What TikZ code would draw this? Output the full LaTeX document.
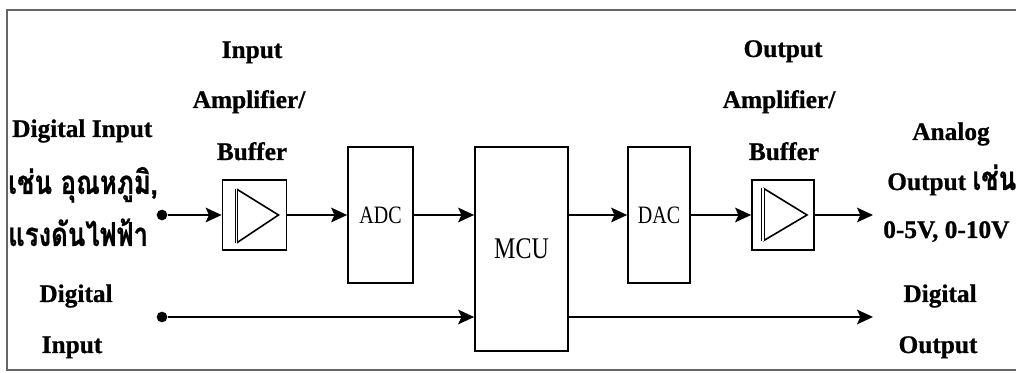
\documentclass[tikz,border=0pt]{standalone}
\usepackage{fontspec}
\setmainfont{Liberation Serif}[BoldFeatures={FakeBold=0.8}]
\newfontfamily\thaifont[Script=Thai,Scale=1.3,FakeStretch=0.78,BoldFeatures={FakeBold=0.6}]{Loma}
\newfontfamily\narrowfont[FakeStretch=0.8]{Liberation Serif}
\usetikzlibrary{arrows.meta,calc}
\tikzset{
  blk/.style={draw, line width=1.3pt, inner sep=0pt},
  blktxt/.style={font=\narrowfont\fontsize{18.75}{18.75}\selectfont},
  lbl/.style={font=\fontsize{19}{19}\selectfont\bfseries, inner sep=0pt, anchor=base},
  lbll/.style={lbl, anchor=base west},
  thlbl/.style={lbll, font=\thaifont\bfseries\fontsize{19}{19}\selectfont},
  conn/.style={line width=1.3pt, -{Stealth[length=12pt,width=11pt,inset=2.5pt]}},
  tri/.style={line width=1.2pt, line join=miter},
  triedge/.style={line width=0.7pt, double, double distance=1pt},
  dotnode/.style={circle, fill, inner sep=0pt, minimum size=8pt},
  frame/.style={draw=black!60, line width=1.2pt},
}
\begin{document}
\begin{tikzpicture}[x=0.75pt,y=-0.75pt]
\useasboundingbox (0,0) rectangle (1016,373);
\clip (0,0) rectangle (1016,373);
\draw[frame] (7,10) rectangle (1030,370);

% blocks
\node[blk, minimum width=48pt, minimum height=52pt] (bi) at (254.5,215) {};
\node[blk, blktxt, minimum width=48.75pt, minimum height=102pt] (adc) at (380.5,215) {ADC};
\node[blk, blktxt, font=\narrowfont\fontsize{22.5}{22.5}\selectfont, minimum width=69.75pt, minimum height=153pt] (mcu) at (521.5,249) {MCU};
\node[blk, blktxt, minimum width=46.5pt, minimum height=102pt] (dac) at (659,215) {DAC};
\node[blk, minimum width=46.5pt, minimum height=52.5pt] (bo) at (783,215) {};

% amplifier triangles
\draw[tri] ($(bi.center)+(-18,-26)$) -- ($(bi.center)+(24,0)$) -- ($(bi.center)+(-18,28)$);
\draw[triedge] ($(bi.center)+(-18,-26)$) -- ($(bi.center)+(-18,28)$);
\draw[tri] ($(bo.center)+(-20,-27)$) -- ($(bo.center)+(24,0)$) -- ($(bo.center)+(-20,26)$);
\draw[triedge] ($(bo.center)+(-20,-27)$) -- ($(bo.center)+(-20,26)$);

% terminals
\node[dotnode] (in1) at (162,215) {};
\node[dotnode] (in2) at (162,317) {};
\coordinate (aout) at (873,215);
\coordinate (dout) at (873,317);

% connectors
\draw[conn] (in1) -- (bi.west);
\draw[conn] (bi.east) -- (adc.west);
\draw[conn] (adc.east) -- (adc.east -| mcu.west);
\draw[conn] (dac.west -| mcu.east) -- (dac.west);
\draw[conn] (dac.east) -- (bo.west);
\draw[conn] (bo.east) -- (aout);
\draw[conn] (in2) -- (in2 -| mcu.west);
\draw[conn] (dout -| mcu.east) -- (dout);

% labels
\node[lbl] (t1) at (252,58) {Input};
\node[lbl] (t2) at (249,108) {Amplifier/};
\node[lbl] (t3) at (252,160) {Buffer};
\node[lbll] (l1) at (12,137) {Digital Input};
\node[thlbl] (l2) at (8,194) {เช่น อุณหภูมิ,};
\node[thlbl] (l3) at (8,246) {แรงดันไฟฟ้า};
\node[lbl] (l4) at (76,302) {Digital};
\node[lbl] (l5) at (72,353) {Input};
\node[lbl] (o1) at (783,57) {Output};
\node[lbl] (o2) at (779,108) {Amplifier/};
\node[lbl] (o3) at (784,160) {Buffer};
\node[lbl] (r1) at (951,140) {Analog};
\node[lbll] (r2) at (887,190) {Output {\thaifont เช่น}};
\node[lbll] (r3) at (883,238) {0-5V, 0-10V};
\node[lbl] (r4) at (940,302) {Digital};
\node[lbl] (r5) at (938,353) {Output};
\end{tikzpicture}
\end{document}
